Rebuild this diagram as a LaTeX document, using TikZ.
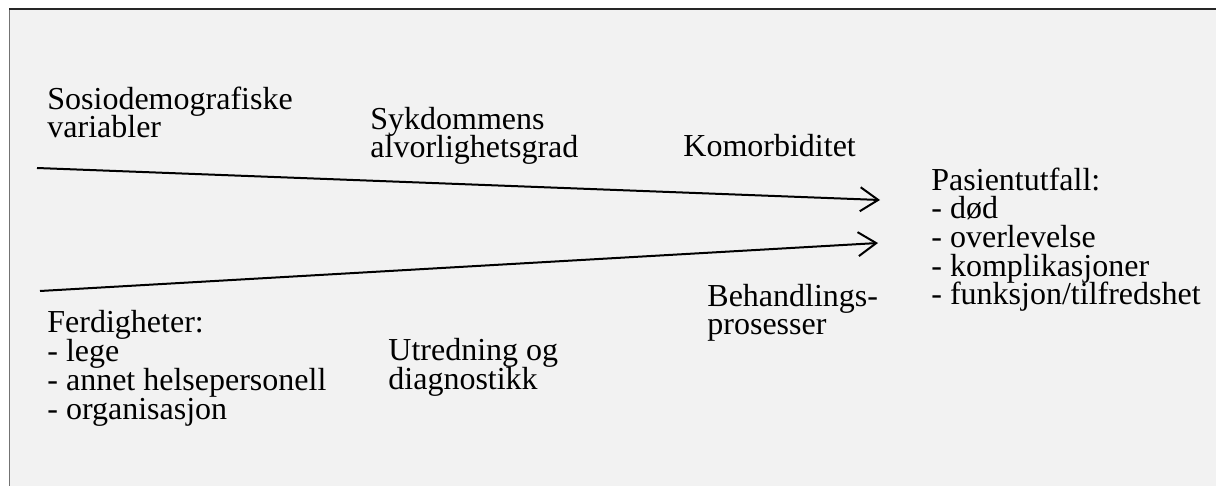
\documentclass[tikz,border=0pt]{standalone}
\usepackage{fontspec}
\setmainfont{Liberation Serif}
\usetikzlibrary{arrows.meta}
\definecolor{bakgrunn}{HTML}{F2F2F2}
\newcommand\lblfont{\fontsize{16pt}{14.35pt}\selectfont\lineskiplimit=-100pt\relax}
\tikzset{
  lbl/.style={anchor=base west, inner sep=0pt, align=left, font=\lblfont},
  pil/.style={line width=1pt, -{Straight Barb[length=9pt, width=12pt, line width=1pt]}}
}
\begin{document}
\begin{tikzpicture}[x=0.5pt, y=-0.5pt]
    % Frame and background
    \useasboundingbox (0,0) rectangle (1216,486);
    \fill[bakgrunn] (9,9) rectangle (1216,486);
    \draw[black!55, line width=0.5pt] (9,486) -- (9,9);
    \draw[black!85, line width=0.9pt] (9,9) -- (1216,9);

    % Factors above the arrows (base = last line)
    \node[lbl] (sosio) at (47,138) {Sosiodemografiske\\variabler};
    \node[lbl] (sykdom) at (370,158) {Sykdommens\\alvorlighetsgrad};
    \node[lbl] (komorb) at (683,157) {Komorbiditet};

    % Outcome
    \node[lbl] (utfall) at (931,305) {Pasientutfall:\\- død\\- overlevelse\\- komplikasjoner\\- funksjon/tilfredshet};

    % Factors below the arrows
    \node[lbl] (ferdig) at (47,419) {Ferdigheter:\\- lege\\- annet helsepersonell\\- organisasjon};
    \node[lbl] (utredn) at (388,389) {Utredning og\\diagnostikk};
    \node[lbl] (behandl) at (707,335) {Behandlings-\\prosesser};

    % Arrows
    \coordinate (topstart) at (37,168);
    \coordinate (toptip) at (880,200);
    \coordinate (botstart) at (40,291);
    \coordinate (bottip) at (878,243);
    \draw[pil] (topstart) -- (toptip);
    \draw[pil] (botstart) -- (bottip);
\end{tikzpicture}
\end{document}
